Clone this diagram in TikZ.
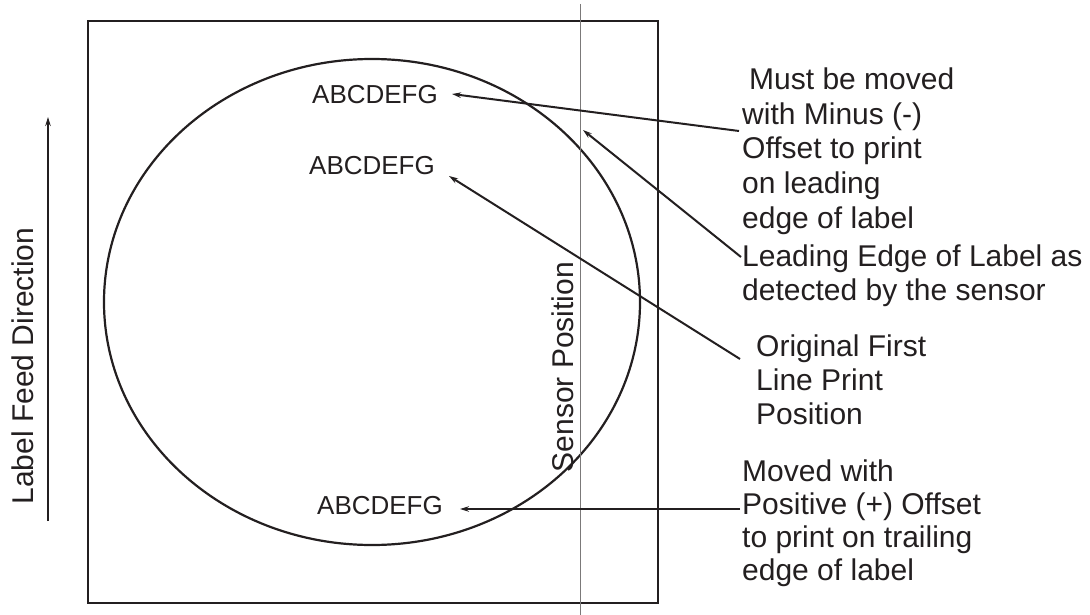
\documentclass[tikz,border=0pt]{standalone}
\usepackage{fontspec}
\setmainfont{Liberation Sans}
\usetikzlibrary{arrows.meta}
\definecolor{ink}{HTML}{231F20}
\begin{document}
\begin{tikzpicture}[x=1pt,y=-1pt,
  frame/.style={draw=ink, line width=2.2pt},
  sensorline/.style={draw=ink!60, line width=0.9pt},
  arr/.style={draw=ink, line width=2pt, -{Stealth[length=9pt,width=5.5pt]}},
  txt/.style={text=ink, font=\fontsize{30}{34}\selectfont, inner sep=0pt, anchor=base west},
  rtxt/.style={text=ink, font=\fontsize{30}{34}\selectfont, inner sep=0pt, rotate=90},
  abc/.style={text=ink, font=\fontsize{26}{30}\selectfont, inner sep=0pt}]
\useasboundingbox (0,0) rectangle (1090,615);
% label outline and circle
\node[frame, minimum width=570pt, minimum height=582pt, inner sep=0pt] (label) at (373,312) {};
\draw[frame] (372,302) ellipse [x radius=268, y radius=243];
% sensor line
\coordinate (stop) at (580,4);
\coordinate (sbot) at (580,615);
\draw[sensorline] (stop) -- (sbot);
\node[rtxt] (sensor) at (563,367) {Sensor Position};
% feed direction
\coordinate (fbot) at (48,521);
\coordinate (ftop) at (48,117);
\draw[arr] (fbot) -- (ftop);
\node[rtxt] (feed) at (23,366) {Label Feed Direction};
% ABCDEFG texts
\node[abc] (abc1) at (375,95) {ABCDEFG};
\node[abc] (abc2) at (372,166) {ABCDEFG};
\node[abc] (abc3) at (380,506) {ABCDEFG};
% right-hand texts
\node[txt] (m1) at (749,90) {Must be moved};
\node[txt] (m2) at (742,124.5) {with Minus (-)};
\node[txt] (m3) at (742,159) {Offset to print};
\node[txt] (m4) at (742,193.5) {on leading};
\node[txt] (m5) at (742,228) {edge of label};
\node[txt] (l1) at (742,266) {Leading Edge of Label as};
\node[txt] (l2) at (742,300) {detected by the sensor};
\node[txt] (o1) at (756,356) {Original First};
\node[txt] (o2) at (756,390) {Line Print};
\node[txt] (o3) at (756,424) {Position};
\node[txt] (p1) at (742,481) {Moved with};
\node[txt] (p2) at (742,514) {Positive (+) Offset};
\node[txt] (p3) at (742,547) {to print on trailing};
\node[txt] (p4) at (742,580) {edge of label};
% connector ends
\coordinate (t1) at (739,131);
\coordinate (h1) at (452,94);
\coordinate (t2) at (741,257);
\coordinate (h2) at (583,130);
\coordinate (t3) at (740,359);
\coordinate (h3) at (449,176);
\coordinate (t4) at (740,509);
\coordinate (h4) at (460,509);
\draw[arr] (t1) -- (h1);
\draw[arr] (t2) -- (h2);
\draw[arr] (t3) -- (h3);
\draw[arr] (t4) -- (h4);
\end{tikzpicture}
\end{document}
